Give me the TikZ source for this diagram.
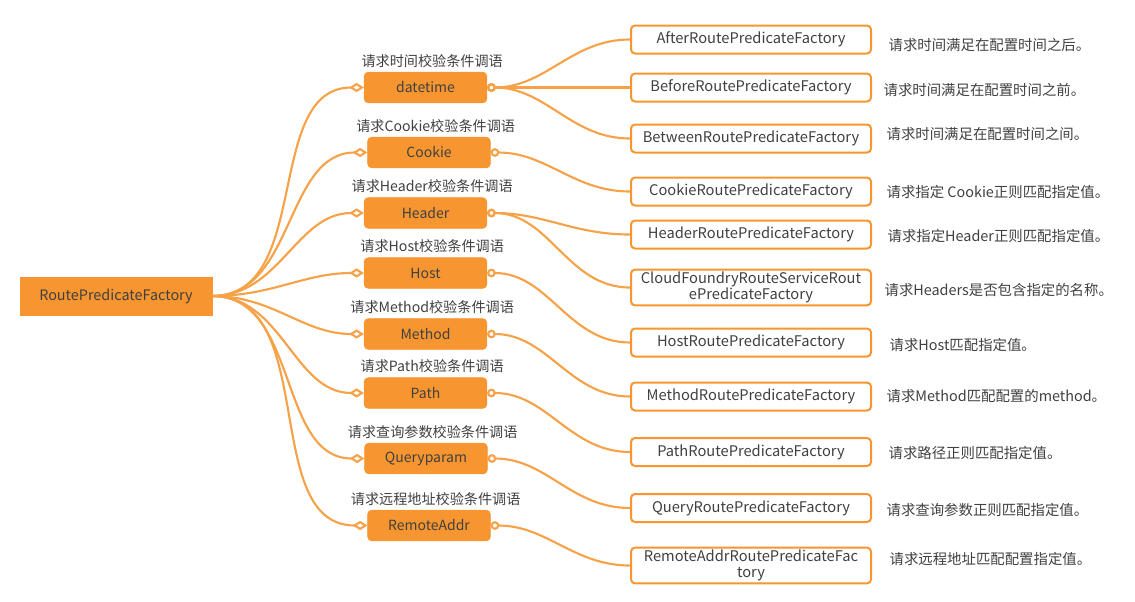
\documentclass[tikz,border=0pt]{standalone}
\usepackage{fontspec}
\setmainfont{Noto Sans CJK SC}
\usepackage{xcolor}
\usetikzlibrary{arrows.meta}
\usetikzlibrary{positioning}

\definecolor{mmorange}{RGB}{247,150,48}
\definecolor{mmline}{RGB}{246,162,72}
\definecolor{mmtext}{RGB}{64,64,64}

\tikzset{
  rootbox/.style={fill=mmorange, draw=mmorange, minimum width=144pt, minimum height=28.5pt,
    text=mmtext, font=\fontsize{10.8}{12}\selectfont},
  keybox/.style={fill=mmorange, draw=mmorange, rounded corners=3pt, minimum width=92pt,
    minimum height=23pt, text=mmtext, font=\fontsize{10.5}{12}\selectfont},
  factbox/.style={draw=mmorange, line width=1.5pt, fill=white, rounded corners=3pt,
    text width=172pt, inner xsep=4pt, inner ysep=2pt, minimum height=21pt, align=center,
    text=mmtext, font=\fontsize{11}{11.5}\selectfont},
  keylabel/.style={text=mmtext, inner sep=1pt, xshift=5pt, font=\fontsize{10.6}{12}\selectfont},
  note/.style={anchor=west, text=mmtext, inner sep=1pt, font=\fontsize{10.8}{12}\selectfont},
  branch/.style={draw=mmline, line width=1.6pt, -{Diamond[open,length=11pt,width=7pt]}},
  twig/.style={draw=mmline, line width=1.6pt, {Circle[open,length=6.5pt]}-},
}

\begin{document}
\begin{tikzpicture}[x=0.75pt,y=-0.75pt]
\useasboundingbox (0,0) rectangle (1135,601);

% root
\node[rootbox] (root) at (116,296) {RoutePredicateFactory};

% predicate keys
\node[keybox] (datetime) at (425.5,87.5) {datetime};
\node[keybox] (cookie) at (429,152.5) {Cookie};
\node[keybox] (header) at (425.5,213) {Header};
\node[keybox] (host) at (425.5,273) {Host};
\node[keybox] (method) at (425.5,334) {Method};
\node[keybox] (path) at (425.5,393) {Path};
\node[keybox] (query) at (426,458.5) {Queryparam};
\node[keybox] (remote) at (429,525.5) {RemoteAddr};

\node[keylabel, above=2pt of datetime] (datetimelbl) {请求时间校验条件调语};
\node[keylabel, above=2pt of cookie] (cookielbl) {请求Cookie校验条件调语};
\node[keylabel, above=2pt of header] (headerlbl) {请求Header校验条件调语};
\node[keylabel, above=2pt of host] (hostlbl) {请求Host校验条件调语};
\node[keylabel, above=2pt of method] (methodlbl) {请求Method校验条件调语};
\node[keylabel, above=2pt of path] (pathlbl) {请求Path校验条件调语};
\node[keylabel, above=2pt of query] (querylbl) {请求查询参数校验条件调语};
\node[keylabel, above=2pt of remote] (remotelbl) {请求远程地址校验条件调语};

% factories
\node[factbox] (after) at (751,39.5) {AfterRoutePredicateFactory};
\node[factbox] (before) at (751,87.5) {BeforeRoutePredicateFactory};
\node[factbox] (between) at (751,138.5) {BetweenRoutePredicateFactory};
\node[factbox] (cookief) at (751,191.5) {CookieRoutePredicateFactory};
\node[factbox] (headerf) at (751,234.5) {HeaderRoutePredicateFactory};
\node[factbox] (cloudf) at (751,287.5) {CloudFoundryRouteServiceRout\\ePredicateFactory};
\node[factbox] (hostf) at (751,342.5) {HostRoutePredicateFactory};
\node[factbox] (methodf) at (751,396.5) {MethodRoutePredicateFactory};
\node[factbox] (pathf) at (751,452) {PathRoutePredicateFactory};
\node[factbox] (queryf) at (751,508) {QueryRoutePredicateFactory};
\node[factbox] (remotef) at (751,565.5) {RemoteAddrRoutePredicateFac\\tory};

% notes
\node[note] (afternote) at (887,45) {请求时间满足在配置时间之后。};
\node[note] (beforenote) at (882,90) {请求时间满足在配置时间之前。};
\node[note] (betweennote) at (885,134) {请求时间满足在配置时间之间。};
\node[note] (cookienote) at (885,192) {请求指定 Cookie正则匹配指定值。};
\node[note] (headernote) at (886,236) {请求指定Header正则匹配指定值。};
\node[note] (cloudnote) at (883,290) {请求Headers是否包含指定的名称。};
\node[note] (hostnote) at (888,345) {请求Host匹配指定值。};
\node[note] (methodnote) at (885,396) {请求Method匹配配置的method。};
\node[note] (pathnote) at (887,453) {请求路径正则匹配指定值。};
\node[note] (querynote) at (885,510) {请求查询参数正则匹配指定值。};
\node[note] (remotenote) at (888,559) {请求远程地址匹配配置指定值。};

% root to keys
\draw[branch] (root.east) to[out=0,in=180] (datetime.west);
\draw[branch] (root.east) to[out=0,in=180] (cookie.west);
\draw[branch] (root.east) to[out=0,in=180] (header.west);
\draw[branch] (root.east) to[out=0,in=180] (host.west);
\draw[branch] (root.east) to[out=0,in=180] (method.west);
\draw[branch] (root.east) to[out=0,in=180] (path.west);
\draw[branch] (root.east) to[out=0,in=180] (query.west);
\draw[branch] (root.east) to[out=0,in=180] (remote.west);

% keys to factories
\draw[twig] (datetime.east) to[out=0,in=180] (after.west);
\draw[twig] (datetime.east) to[out=0,in=180] (before.west);
\draw[twig] (datetime.east) to[out=0,in=180] (between.west);
\draw[twig] (cookie.east) to[out=0,in=180] (cookief.west);
\draw[twig] (header.east) to[out=0,in=180] (headerf.west);
\draw[twig] (header.east) to[out=0,in=180] (cloudf.west);
\draw[twig] (host.east) to[out=0,in=180] (hostf.west);
\draw[twig] (method.east) to[out=0,in=180] (methodf.west);
\draw[twig] (path.east) to[out=0,in=180] (pathf.west);
\draw[twig] (query.east) to[out=0,in=180] (queryf.west);
\draw[twig] (remote.east) to[out=0,in=180] (remotef.west);
\end{tikzpicture}
\end{document}
